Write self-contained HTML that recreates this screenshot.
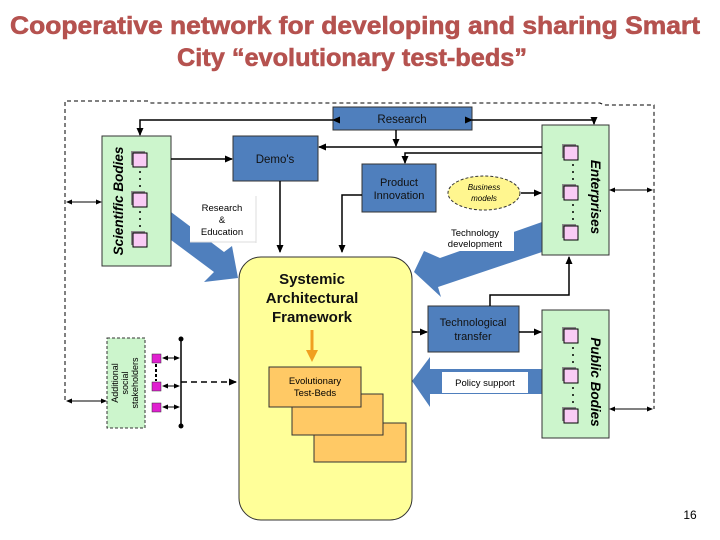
<!DOCTYPE html>
<html><head><meta charset="utf-8"><style>
html,body{margin:0;padding:0;background:#fff;}
svg{display:block;font-family:"Liberation Sans",Arial,sans-serif;}
</style></head><body>
<svg width="720" height="540" viewBox="0 0 720 540" xmlns="http://www.w3.org/2000/svg">
<defs>
<marker id="a" markerWidth="8" markerHeight="8" refX="7" refY="4" orient="auto" markerUnits="userSpaceOnUse"><path d="M0,0.5 L8,4 L0,7.5z" fill="#000"/></marker>
<marker id="s" markerWidth="6" markerHeight="6" refX="5" refY="3" orient="auto" markerUnits="userSpaceOnUse"><path d="M0,0.5 L6,3 L0,5.5z" fill="#000"/></marker>
<marker id="sb" markerWidth="6" markerHeight="6" refX="1" refY="3" orient="auto" markerUnits="userSpaceOnUse"><path d="M6,0.5 L0,3 L6,5.5z" fill="#000"/></marker>
</defs>
<!-- Title -->
<g font-weight="bold" font-size="25" fill="#b5524f" stroke="#b5524f" stroke-width="0.6">
<text x="10" y="34" textLength="690" lengthAdjust="spacingAndGlyphs">Cooperative network for developing and sharing Smart</text>
<text x="177" y="66" textLength="350" lengthAdjust="spacingAndGlyphs">City “evolutionary test-beds”</text>
</g>
<!-- dashed outer frame -->
<path d="M65,400 L65,101 L148,101 L151,103 L600,103 L604,105 L654,105 L654,409" fill="none" stroke="#000" stroke-width="1" stroke-dasharray="4,3"/>

<!-- blue big arrows -->
<path d="M171,212 L224,252 L232,246 L238,278 L204,282 L214,272 L171,240z" fill="#4f7fbd"/>
<path d="M542,222 L440,258 L424,251 L414,272 L441,297 L438,287 L542,252z" fill="#4f7fbd"/>
<!-- policy support arrow -->
<path d="M542,369 L430,369 L430,357 L412,381 L430,407 L430,394 L542,394z" fill="#4f7fbd"/>

<!-- yellow framework -->
<rect x="239" y="257" width="173" height="263" rx="22" fill="#ffff99" stroke="#333" stroke-width="1"/>
<g font-weight="bold" font-size="15" fill="#111" text-anchor="middle">
<text x="312" y="284">Systemic</text>
<text x="312" y="303">Architectural</text>
<text x="312" y="322">Framework</text>
</g>
<line x1="312" y1="330" x2="312" y2="352" stroke="#f0a020" stroke-width="3"/>
<path d="M306,350 L318,350 L312,362z" fill="#f0a020"/>
<rect x="314" y="423" width="92" height="39" fill="#ffc965" stroke="#333" stroke-width="1"/>
<rect x="292" y="394" width="91" height="41" fill="#ffc965" stroke="#333" stroke-width="1"/>
<rect x="269" y="367" width="92" height="40" fill="#ffc965" stroke="#333" stroke-width="1"/>
<text x="315" y="384" font-size="9.5" text-anchor="middle">Evolutionary</text>
<text x="315" y="396" font-size="9.5" text-anchor="middle">Test-Beds</text>

<!-- Scientific Bodies -->
<rect x="102" y="136" width="69" height="130" fill="#ccf5cc" stroke="#333" stroke-width="1"/>
<text transform="translate(123,201) rotate(-90)" font-size="13.5" font-weight="bold" font-style="italic" text-anchor="middle">Scientific Bodies</text>
<g stroke="#000" stroke-width="1">
<rect x="131" y="151" width="14" height="14" fill="#888" stroke="none"/><rect x="133" y="153" width="14" height="14" fill="#f9ccf5"/>
<rect x="131" y="191" width="14" height="14" fill="#888" stroke="none"/><rect x="133" y="193" width="14" height="14" fill="#f9ccf5"/>
<rect x="131" y="231" width="14" height="14" fill="#888" stroke="none"/><rect x="133" y="233" width="14" height="14" fill="#f9ccf5"/>
</g>
<g fill="#000"><circle cx="140" cy="172" r="1"/><circle cx="140" cy="179" r="1"/><circle cx="140" cy="186" r="1"/><circle cx="140" cy="212" r="1"/><circle cx="140" cy="219" r="1"/><circle cx="140" cy="226" r="1"/></g>

<!-- Enterprises -->
<rect x="542" y="125" width="67" height="130" fill="#ccf5cc" stroke="#333" stroke-width="1"/>
<text transform="translate(591,197) rotate(90)" font-size="13.5" font-weight="bold" font-style="italic" text-anchor="middle">Enterprises</text>
<g stroke="#000" stroke-width="1">
<rect x="562" y="144" width="14" height="14" fill="#888" stroke="none"/><rect x="564" y="146" width="14" height="14" fill="#f9ccf5"/>
<rect x="562" y="184" width="14" height="14" fill="#888" stroke="none"/><rect x="564" y="186" width="14" height="14" fill="#f9ccf5"/>
<rect x="562" y="224" width="14" height="14" fill="#888" stroke="none"/><rect x="564" y="226" width="14" height="14" fill="#f9ccf5"/>
</g>
<g fill="#000"><circle cx="573" cy="165" r="1"/><circle cx="573" cy="172" r="1"/><circle cx="573" cy="179" r="1"/><circle cx="573" cy="205" r="1"/><circle cx="573" cy="212" r="1"/><circle cx="573" cy="219" r="1"/></g>

<!-- Public Bodies -->
<rect x="542" y="310" width="67" height="128" fill="#ccf5cc" stroke="#333" stroke-width="1"/>
<text transform="translate(591,382) rotate(90)" font-size="13.5" font-weight="bold" font-style="italic" text-anchor="middle">Public Bodies</text>
<g stroke="#000" stroke-width="1">
<rect x="562" y="327" width="14" height="14" fill="#888" stroke="none"/><rect x="564" y="329" width="14" height="14" fill="#f9ccf5"/>
<rect x="562" y="367" width="14" height="14" fill="#888" stroke="none"/><rect x="564" y="369" width="14" height="14" fill="#f9ccf5"/>
<rect x="562" y="407" width="14" height="14" fill="#888" stroke="none"/><rect x="564" y="409" width="14" height="14" fill="#f9ccf5"/>
</g>
<g fill="#000"><circle cx="573" cy="348" r="1"/><circle cx="573" cy="355" r="1"/><circle cx="573" cy="362" r="1"/><circle cx="573" cy="388" r="1"/><circle cx="573" cy="395" r="1"/><circle cx="573" cy="402" r="1"/></g>

<!-- Blue boxes -->
<rect x="333" y="107" width="139" height="23" fill="#4f7fbd" stroke="#333" stroke-width="1"/>
<text x="402" y="123" font-size="11.5" text-anchor="middle" fill="#111">Research</text>
<rect x="233" y="136" width="85" height="45" fill="#4f7fbd" stroke="#333" stroke-width="1"/>
<text x="275" y="163" font-size="11.5" text-anchor="middle" fill="#111">Demo's</text>
<rect x="362" y="164" width="74" height="48" fill="#4f7fbd" stroke="#333" stroke-width="1"/>
<text x="399" y="186" font-size="11" text-anchor="middle" fill="#111">Product</text>
<text x="399" y="199" font-size="11" text-anchor="middle" fill="#111">Innovation</text>
<rect x="428" y="306" width="91" height="46" fill="#4f7fbd" stroke="#333" stroke-width="1"/>
<text x="473" y="326" font-size="11" text-anchor="middle" fill="#111">Technological</text>
<text x="473" y="340" font-size="11" text-anchor="middle" fill="#111">transfer</text>

<!-- business models -->
<ellipse cx="484" cy="193" rx="36" ry="17" fill="#fff68f" stroke="#333" stroke-width="1" stroke-dasharray="3,2"/>
<text x="484" y="190" font-size="8" font-style="italic" text-anchor="middle">Business</text>
<text x="484" y="201" font-size="8" font-style="italic" text-anchor="middle">models</text>

<!-- white labels -->
<rect x="190" y="195" width="66" height="47" fill="#fff"/>
<line x1="256" y1="196" x2="256" y2="243" stroke="#ddd"/><line x1="190" y1="242" x2="256" y2="242" stroke="#ddd"/>
<text x="222" y="211" font-size="9.5" text-anchor="middle">Research</text>
<text x="222" y="223" font-size="9.5" text-anchor="middle">&amp;</text>
<text x="222" y="235" font-size="9.5" text-anchor="middle">Education</text>
<rect x="439" y="225" width="75" height="26" fill="#fff"/>
<text x="475" y="236" font-size="9.5" text-anchor="middle">Technology</text>
<text x="475" y="247" font-size="9.5" text-anchor="middle">development</text>
<rect x="442" y="372" width="86" height="21" fill="#fff"/>
<text x="485" y="386" font-size="9.5" text-anchor="middle">Policy support</text>

<!-- connectors -->
<g fill="none" stroke="#000" stroke-width="1.5">
<path d="M333,120 L140,120 L140,135" marker-end="url(#a)" marker-start="url(#a)"/>
<path d="M472,120 L594,120 L594,124" marker-end="url(#a)" marker-start="url(#a)"/>
<path d="M396,130 L396,146" marker-end="url(#a)"/>
<path d="M542,147 L319,147" marker-end="url(#a)"/>
<path d="M542,153 L405,153 L405,163" marker-end="url(#a)"/>
<path d="M171,159 L232,159" marker-end="url(#a)"/>
<path d="M280,181 L280,252" marker-end="url(#a)"/>
<path d="M362,195 L342,195 L342,252" marker-end="url(#a)"/>
<path d="M521,193 L541,193" marker-end="url(#a)"/>
<path d="M490,306 L490,295 L569,295 L569,257" marker-end="url(#a)"/>
<path d="M412,332 L427,332" marker-end="url(#a)"/>
<path d="M519,332 L541,332" marker-end="url(#a)"/>
<path d="M181,382 L236,382" stroke-dasharray="6,4" marker-end="url(#a)"/>
<path d="M181,339 L181,426"/>
</g>
<circle cx="181" cy="339" r="2.5"/><circle cx="181" cy="426" r="2.5"/>
<g fill="none" stroke="#000" stroke-width="1">
<path d="M67,202 L101,202" marker-end="url(#s)" marker-start="url(#sb)"/>
<path d="M67,401 L106,401" marker-end="url(#s)" marker-start="url(#sb)"/>
<path d="M610,190 L652,190" marker-end="url(#s)" marker-start="url(#sb)"/>
<path d="M610,409 L652,409" marker-end="url(#s)" marker-start="url(#sb)"/>
</g>

<!-- additional stakeholders -->
<rect x="107" y="338" width="38" height="90" fill="#ccf5cc" stroke="#333" stroke-width="1" stroke-dasharray="3,2"/>
<g font-size="9" text-anchor="middle">
<text transform="translate(118,383) rotate(-90)">Additional</text>
<text transform="translate(128,383) rotate(-90)">social</text>
<text transform="translate(138,383) rotate(-90)">stakeholders</text>
</g>
<g fill="#e020d0" stroke="#333" stroke-width="0.5">
<rect x="152" y="354" width="9" height="9"/><rect x="152" y="382" width="9" height="9"/><rect x="152" y="403" width="9" height="9"/>
</g>
<line x1="156" y1="364" x2="156" y2="381" stroke="#000" stroke-width="2" stroke-dasharray="3,2"/>
<g stroke="#000" stroke-width="1" fill="none">
<path d="M163,358 L179,358" marker-end="url(#s)" marker-start="url(#sb)"/>
<path d="M163,386 L179,386" marker-end="url(#s)" marker-start="url(#sb)"/>
<path d="M163,407 L179,407" marker-end="url(#s)" marker-start="url(#sb)"/>
</g>

<text x="690" y="519" font-size="12" text-anchor="middle">16</text>
</svg>
</body></html>
